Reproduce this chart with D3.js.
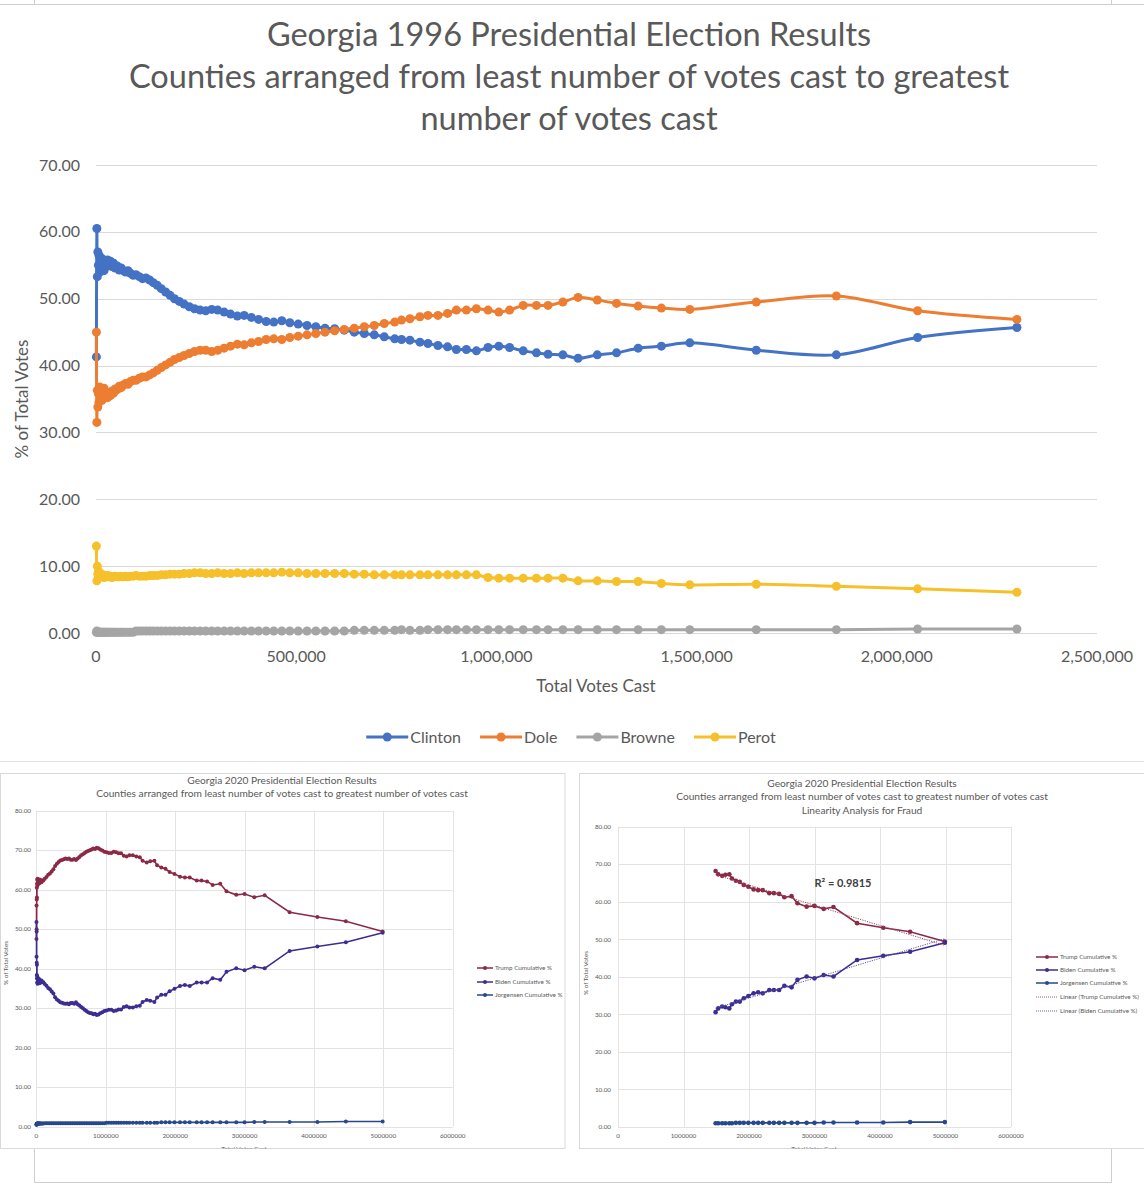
<!DOCTYPE html>
<html>
<head>
<meta charset="utf-8">
<script src="https://cdn.jsdelivr.net/npm/d3@7"></script>
<style>
body{margin:0;background:#fff;}
svg{display:block;font-family:Lato,"Open Sans",sans-serif;}
</style>
</head>
<body>
<script>
//---------------------------------- 1996 data (cumulative votes, cumulative %)
var votes96 = [1000,2100,3300,4600,6000,7500,9200,11000,13000,15000,
	17500,20000,23000,26000,29000,32000,36000,40000,44000,48000,
	53000,58000,63000,68000,74000,80000,86000,93000,100000,108000,
	116000,125000,134000,143000,153000,163000,174000,185000,196000,208000,
	220000,233000,246000,260000,274000,289000,304000,320000,336000,353000,
	370000,388000,406000,425000,444000,464000,484000,505000,527000,549000,
	572000,596000,620000,645000,670000,695000,720000,
	746000,763000,784000,809000,829000,854000,878000,900000,925000,950000,
	979000,1006000,1033000,1067000,1100000,1129000,1166000,1204000,1252000,1300000,
	1354000,1412000,1483000,1649000,1849000,2052000,2300000];
var clinton96 = [41.3,60.5,53.3,57.0,55.0,56.5,54.0,55.8,54.5,56.0,
	55.0,54.2,55.5,54.8,55.8,55.2,55.6,54.8,55.3,54.6,
	54.9,54.3,54.6,54.2,54.0,54.2,53.8,53.5,53.6,53.3,
	53.0,53.1,52.8,52.4,52.0,51.5,51.0,50.5,50.0,49.6,
	49.2,48.8,48.5,48.3,48.2,48.4,48.3,48.0,47.7,47.4,
	47.5,47.2,46.9,46.6,46.5,46.7,46.4,46.2,46.0,45.8,
	45.6,45.5,45.3,45.0,44.8,44.6,44.3,
	44.0,43.9,43.8,43.5,43.3,43.0,42.8,42.4,42.4,42.2,
	42.7,42.9,42.7,42.2,41.9,41.7,41.6,41.1,41.6,41.9,
	42.6,42.9,43.4,42.3,41.6,44.2,45.7];
var dole96 = [45.0,31.5,36.3,33.8,35.8,34.5,36.8,35.0,36.2,34.8,
	35.8,36.6,35.5,36.0,35.2,35.8,35.5,36.2,35.9,36.5,
	36.4,36.9,36.7,37.1,37.3,37.2,37.6,37.8,37.8,38.1,
	38.3,38.3,38.6,38.9,39.3,39.7,40.1,40.5,40.9,41.2,
	41.5,41.8,42.1,42.3,42.3,42.1,42.3,42.6,42.9,43.2,
	43.1,43.4,43.6,43.9,44.0,43.9,44.2,44.4,44.6,44.8,
	45.0,45.2,45.4,45.6,45.8,46.0,46.3,
	46.5,46.8,47.0,47.3,47.5,47.5,47.8,48.3,48.3,48.5,
	48.3,48.0,48.3,49.0,49.0,49.0,49.5,50.2,49.8,49.3,
	48.9,48.6,48.4,49.5,50.4,48.2,46.9];
var browne96 = [0.1,0.3,0.1,0.2,0.1,0.1,0.1,0.1,0.1,0.1,
	0.1,0.1,0.1,0.1,0.1,0.1,0.1,0.1,0.1,0.1,
	0.1,0.1,0.1,0.1,0.1,0.1,0.1,0.1,0.3,0.3,
	0.3,0.3,0.3,0.3,0.3,0.3,0.3,0.3,0.3,0.3,
	0.3,0.3,0.3,0.3,0.3,0.3,0.3,0.3,0.3,0.3,
	0.3,0.3,0.3,0.3,0.3,0.3,0.3,0.3,0.3,0.3,
	0.3,0.3,0.3,0.4,0.4,0.4,0.4,
	0.4,0.5,0.4,0.4,0.5,0.5,0.5,0.5,0.5,0.5,
	0.5,0.5,0.5,0.5,0.5,0.5,0.5,0.5,0.5,0.5,
	0.5,0.5,0.5,0.5,0.5,0.6,0.6];
var perot96 = [13.0,7.8,10.0,8.8,9.2,8.6,9.0,8.4,8.8,8.5,
	8.7,8.3,8.5,8.4,8.6,8.4,8.5,8.3,8.4,8.5,
	8.4,8.4,8.5,8.4,8.5,8.4,8.5,8.5,8.6,8.5,
	8.5,8.5,8.6,8.6,8.6,8.7,8.7,8.8,8.8,8.8,
	8.9,8.9,9.0,9.0,8.9,8.9,9.0,8.9,8.9,9.0,
	8.9,9.0,9.0,9.0,9.0,9.1,9.0,9.0,8.9,8.9,
	8.9,8.9,8.9,8.8,8.8,8.7,8.7,
	8.7,8.7,8.7,8.7,8.7,8.7,8.7,8.7,8.7,8.7,
	8.3,8.2,8.2,8.2,8.2,8.2,8.2,7.8,7.8,7.7,
	7.7,7.4,7.2,7.3,7.0,6.6,6.1];
var names96 = ["Clinton","Dole","Browne","Perot"];
var yTicks96 = [0,10,20,30,40,50,60,70];
var xTicks96 = [0,500000,1000000,1500000,2000000,2500000];
var titles96 = ["Georgia 1996 Presidential Election Results",
	"Counties arranged from least number of votes cast to greatest",
	"number of votes cast"];

//---------------------------------- 2020 data
var votes20 = [1000,2200,3300,4600,6000,7600,9300,11500,14000,17000,
	20000,24000,28000,33000,39000,46000,54000,63000,73000,85000,
	100000,120000,145000,170000,195000,220000,245000,270000,295000,320000,
	345000,370000,395000,420000,445000,470000,495000,520000,545000,570000,
	595000,620000,645000,670000,695000,720000,745000,770000,795000,820000,
	845000,870000,895000,920000,950000,980000,1010000,1045000,1080000,1115000,
	1150000,1185000,1220000,1260000,1300000,1340000,1390000,1440000,
	1490000,1530000,1590000,1640000,1700000,1740000,1800000,1860000,1920000,1990000,
	2070000,2140000,2210000,2310000,2380000,2460000,2540000,2650000,2740000,2880000,
	3000000,3140000,3290000,3650000,4050000,4460000,4990000];
var trump20 = [47.5,56.0,50.0,57.5,60.5,58.0,61.5,62.5,61.0,62.8,
	61.8,62.5,61.5,62.2,61.6,62.6,61.8,62.4,61.9,62.3,
	62.3,62.8,63.2,63.8,64.1,64.6,65.2,66.0,66.6,67.0,
	67.4,67.5,67.7,67.9,67.8,67.9,67.6,67.6,67.8,67.5,
	67.9,68.3,68.7,69.0,69.3,69.6,69.8,70.0,70.2,70.4,
	70.3,70.6,70.5,70.2,69.9,69.6,69.5,69.3,69.3,69.6,
	69.5,69.2,69.2,68.6,68.4,68.7,68.7,68.4,
	68.2,67.3,66.9,67.2,67.3,66.2,65.6,65.3,64.5,64.0,
	63.3,63.1,63.1,62.3,62.3,62.1,61.2,61.5,59.6,58.7,
	58.9,58.1,58.6,54.3,53.1,52.0,49.4];
var biden20 = [51.8,43.0,49.4,41.5,38.4,41.0,37.5,36.5,38.0,36.2,
	37.2,36.4,37.4,36.8,37.4,36.3,37.0,36.5,37.0,36.6,
	36.6,36.1,35.7,35.1,34.8,34.2,33.7,32.8,32.2,31.9,
	31.5,31.4,31.2,31.1,31.2,31.0,31.3,31.3,31.1,31.5,
	31.0,30.7,30.3,30.0,29.6,29.3,29.0,28.8,28.7,28.5,
	28.6,28.3,28.4,28.7,29.0,29.3,29.4,29.6,29.6,29.3,
	29.4,29.7,29.7,30.3,30.5,30.2,30.2,30.5,
	30.6,31.6,32.1,31.9,31.6,32.7,33.4,33.4,34.3,34.9,
	35.6,35.9,35.6,36.5,36.5,36.5,37.6,37.2,39.2,40.1,
	39.6,40.5,40.1,44.5,45.6,46.7,49.1];
var jorgensen20 = [0.5,0.6,0.5,0.6,0.7,0.7,0.7,0.8,0.8,0.8,
	0.8,0.8,0.8,0.8,0.8,0.8,0.8,0.8,0.8,0.8,
	0.8,0.9,0.9,0.9,0.9,0.9,0.9,0.9,0.9,0.9,
	0.9,0.9,0.9,0.9,0.9,0.9,0.9,0.9,0.9,0.9,
	0.9,0.9,0.9,0.9,0.9,0.9,0.9,0.9,0.9,0.9,
	0.9,0.9,0.9,0.9,0.9,0.9,1.0,1.0,1.0,1.0,
	1.0,1.0,1.0,1.0,1.0,1.0,1.0,1.0,
	1.0,1.0,1.0,1.0,1.0,1.0,1.1,1.1,1.1,1.1,
	1.1,1.1,1.1,1.1,1.1,1.1,1.1,1.1,1.1,1.1,
	1.1,1.2,1.2,1.2,1.2,1.3,1.3];
var names20 = ["Trump Cumulative %","Biden Cumulative %","Jorgensen Cumulative %"];
var trendNames20 = ["Linear (Trump Cumulative %)","Linear (Biden Cumulative %)"];
var yTicks20 = [0,10,20,30,40,50,60,70,80];
var xTicks20 = [0,1000000,2000000,3000000,4000000,5000000,6000000];
var titles20 = ["Georgia 2020 Presidential Election Results",
	"Counties arranged from least number of votes cast to greatest number of votes cast"];
var titleFraud = "Linearity Analysis for Fraud";
var startFraud = 1490000;   // right hand chart keeps counties from here on
var r2Text = "R\u00b2 = 0.9815";

//----------------------------------
var txt = "#595959", grid = "#d9d9d9";
var colors96 = ["#4472c4","#ed7d31","#a5a5a5","#f5c02a"];
var colors20 = ["#8b2a46","#3c2e91","#27488c"];
var trendColors = ["#a04a66","#5a54aa"];

var svg = d3.select("body").append("svg").attr("width",1144).attr("height",1200);

drawFrame();
drawMain();
drawSmall({
	id:"left", panel:[0.5,773.5,565,1148.5], px:[36.4,452.7], py:[1126.7,810.7],
	titles:titles20, titleX:282, titleY:[781,794],
	yLabX:31, yTitleX:8, yTitleY:963, xTitleX:244,
	votes:votes20, start:0, mark:2, trend:false,
	legX:477, legY:[968,982,995]
});
drawSmall({
	id:"right", panel:[579.5,773.5,1150,1148.5], px:[618,1011], py:[1127,826.7],
	titles:titles20.concat([titleFraud]), titleX:862, titleY:[784,797,811],
	yLabX:611, yTitleX:588, yTitleY:973, xTitleX:814,
	votes:votes20, start:startFraud, mark:2.3, trend:true,
	legX:1036, legY:[957,970,983,997,1011]
});

function drawFrame()
{
	var f = svg.append("g").attr("stroke","#cfcfcf").attr("fill","none");
	f.append("line").attr("x1",0).attr("x2",1144).attr("y1",4.5).attr("y2",4.5);
	f.append("line").attr("x1",34.5).attr("x2",34.5).attr("y1",0).attr("y2",4.5);
	f.append("line").attr("x1",1111.5).attr("x2",1111.5).attr("y1",0).attr("y2",4.5);
	f.append("line").attr("x1",0).attr("x2",1144).attr("y1",761.5).attr("y2",761.5).attr("stroke","#e2e2e2");
	f.append("polyline").attr("points","34.5,1148 34.5,1182.5 1111.5,1182.5 1111.5,1148");
}

function drawMain()
{
	var x = d3.scaleLinear().domain([0,2500000]).range([96,1097]);
	var y = d3.scaleLinear().domain([0,70]).range([633,165]);
	var g = svg.append("g");

	g.selectAll(".title").data(titles96).enter().append("text")
		.attr("x",569).attr("y",function(d,i){return 46+i*42;})
		.attr("text-anchor","middle").attr("font-size",32.5).attr("fill",txt)
		.text(function(d){return d;});

	g.selectAll(".grid").data(yTicks96).enter().append("line")
		.attr("x1",x.range()[0]).attr("x2",x.range()[1])
		.attr("y1",function(d){return Math.round(y(d))+0.5;})
		.attr("y2",function(d){return Math.round(y(d))+0.5;})
		.attr("stroke",grid).attr("stroke-width",1);

	g.selectAll(".ylab").data(yTicks96).enter().append("text")
		.attr("x",80).attr("y",function(d){return y(d)+5.5;})
		.attr("text-anchor","end").attr("font-size",16).attr("fill",txt)
		.text(d3.format(".2f"));
	g.selectAll(".xlab").data(xTicks96).enter().append("text")
		.attr("x",function(d){return x(d);}).attr("y",662)
		.attr("text-anchor","middle").attr("font-size",16).attr("fill",txt)
		.text(d3.format(","));

	g.append("text").attr("x",596).attr("y",692).attr("text-anchor","middle")
		.attr("font-size",17).attr("fill",txt).text("Total Votes Cast");
	g.append("text").attr("transform","translate(28,399) rotate(-90)").attr("text-anchor","middle")
		.attr("font-size",17).attr("fill",txt).text("% of Total Votes");

	var all = [clinton96,dole96,browne96,perot96];
	var line = d3.line()
		.x(function(d,i){return x(votes96[i]);})
		.y(function(d){return y(d);})
		.curve(d3.curveCatmullRom.alpha(0.5));
	all.forEach(function(vals,k){
		var s = g.append("g");
		s.append("path").attr("d",line(vals)).attr("fill","none")
			.attr("stroke",colors96[k]).attr("stroke-width",3);
		s.selectAll("circle").data(vals).enter().append("circle")
			.attr("cx",function(d,i){return x(votes96[i]);})
			.attr("cy",function(d){return y(d);})
			.attr("r",4.5).attr("fill",colors96[k]);
	});

	// legend, laid out from the text widths and centred
	var leg = g.append("g"), pos = 0;
	names96.forEach(function(n,k){
		var it = leg.append("g").attr("transform","translate("+pos+",0)");
		it.append("line").attr("x1",0).attr("x2",42).attr("y1",0).attr("y2",0)
			.attr("stroke",colors96[k]).attr("stroke-width",3);
		it.append("circle").attr("cx",21).attr("cy",0).attr("r",4.5).attr("fill",colors96[k]);
		var t = it.append("text").attr("x",44).attr("y",5.5).attr("font-size",16)
			.attr("fill",txt).text(n);
		pos += 44 + t.node().getComputedTextLength() + 19;
	});
	pos -= 19;
	leg.attr("transform","translate("+(571-pos/2)+",737)");
}

function drawSmall(c)
{
	var x = d3.scaleLinear().domain([0,6000000]).range(c.px);
	var y = d3.scaleLinear().domain([0,80]).range(c.py);
	var p = c.panel;

	svg.append("clipPath").attr("id","clip-"+c.id).append("rect")
		.attr("x",p[0]).attr("y",p[1]).attr("width",p[2]-p[0]).attr("height",p[3]-p[1]);
	svg.append("rect").attr("x",p[0]).attr("y",p[1]).attr("width",p[2]-p[0]).attr("height",p[3]-p[1])
		.attr("fill","#fff").attr("stroke","#d9d9d9");
	var g = svg.append("g").attr("clip-path","url(#clip-"+c.id+")");

	g.selectAll(".title").data(c.titles).enter().append("text")
		.attr("x",c.titleX).attr("y",function(d,i){return c.titleY[i]+3.4;})
		.attr("text-anchor","middle").attr("font-size",10.2).attr("fill",txt)
		.text(function(d){return d;});

	g.selectAll(".hgrid").data(yTicks20).enter().append("line")
		.attr("x1",c.px[0]).attr("x2",c.px[1])
		.attr("y1",function(d){return Math.round(y(d))+0.5;})
		.attr("y2",function(d){return Math.round(y(d))+0.5;})
		.attr("stroke","#e3e3e3");
	g.selectAll(".vgrid").data(xTicks20).enter().append("line")
		.attr("y1",c.py[0]).attr("y2",c.py[1])
		.attr("x1",function(d){return Math.round(x(d))+0.5;})
		.attr("x2",function(d){return Math.round(x(d))+0.5;})
		.attr("stroke","#e3e3e3");

	g.selectAll(".ylab").data(yTicks20).enter().append("text")
		.attr("x",c.yLabX).attr("y",function(d){return y(d)+2.2;})
		.attr("text-anchor","end").attr("font-size",6.3).attr("fill",txt)
		.text(d3.format(".2f"));
	g.selectAll(".xlab").data(xTicks20).enter().append("text")
		.attr("x",function(d){return x(d);}).attr("y",c.py[0]+11)
		.attr("text-anchor","middle").attr("font-size",6.3).attr("fill",txt)
		.text(function(d){return String(d);});
	g.append("text").attr("x",c.xTitleX).attr("y",1150.5).attr("text-anchor","middle")
		.attr("font-size",6.5).attr("fill",txt).text("Total Votes Cast");
	g.append("text").attr("transform","translate("+c.yTitleX+","+c.yTitleY+") rotate(-90)")
		.attr("text-anchor","middle").attr("font-size",6.3).attr("fill",txt).text("% of Total Votes");

	var idx = d3.range(c.votes.length).filter(function(i){return c.votes[i] >= c.start;});
	var all = [trump20,biden20,jorgensen20];
	all.forEach(function(vals,k){
		var pts = idx.map(function(i){return [c.votes[i],vals[i]];});
		g.append("path").datum(pts)
			.attr("d",d3.line().x(function(d){return x(d[0]);}).y(function(d){return y(d[1]);}))
			.attr("fill","none").attr("stroke",colors20[k]).attr("stroke-width",1.6);
		g.append("g").selectAll("circle").data(pts).enter().append("circle")
			.attr("cx",function(d){return x(d[0]);}).attr("cy",function(d){return y(d[1]);})
			.attr("r",c.mark).attr("fill",colors20[k]);
	});

	var legend = names20.map(function(n,k){return {name:n,color:colors20[k],dots:false};});
	if (c.trend)
	{
		[trump20,biden20].forEach(function(vals,k){
			var pts = idx.map(function(i){return [c.votes[i],vals[i]];});
			var mx = d3.mean(pts,function(d){return d[0];}), my = d3.mean(pts,function(d){return d[1];});
			var sxy = d3.sum(pts,function(d){return (d[0]-mx)*(d[1]-my);});
			var sxx = d3.sum(pts,function(d){return (d[0]-mx)*(d[0]-mx);});
			var b = sxy/sxx, a = my - b*mx;
			var x0 = pts[0][0], x1 = pts[pts.length-1][0];
			g.append("line").attr("x1",x(x0)).attr("x2",x(x1))
				.attr("y1",y(a+b*x0)).attr("y2",y(a+b*x1))
				.attr("stroke",trendColors[k]).attr("stroke-width",1)
				.attr("stroke-dasharray","1.2,1.2");
			legend.push({name:trendNames20[k],color:trendColors[k],dots:true});
		});
		g.append("text").attr("x",843).attr("y",887).attr("text-anchor","middle")
			.attr("font-size",11).attr("font-weight","bold").attr("fill","#404040").text(r2Text);
	}

	var lw = c.trend ? 22 : 16;
	legend.forEach(function(e,k){
		var ly = c.legY[k];
		g.append("line").attr("x1",c.legX).attr("x2",c.legX+lw).attr("y1",ly).attr("y2",ly)
			.attr("stroke",e.color).attr("stroke-width",e.dots ? 0.9 : 1.6)
			.attr("stroke-dasharray",e.dots ? "1,1" : null);
		if (!e.dots)
			g.append("circle").attr("cx",c.legX+lw/2).attr("cy",ly).attr("r",2).attr("fill",e.color);
		g.append("text").attr("x",c.legX+lw+2).attr("y",ly+2.2).attr("font-size",6.3)
			.attr("fill",txt).text(e.name);
	});
}
</script>
</body>
</html>
